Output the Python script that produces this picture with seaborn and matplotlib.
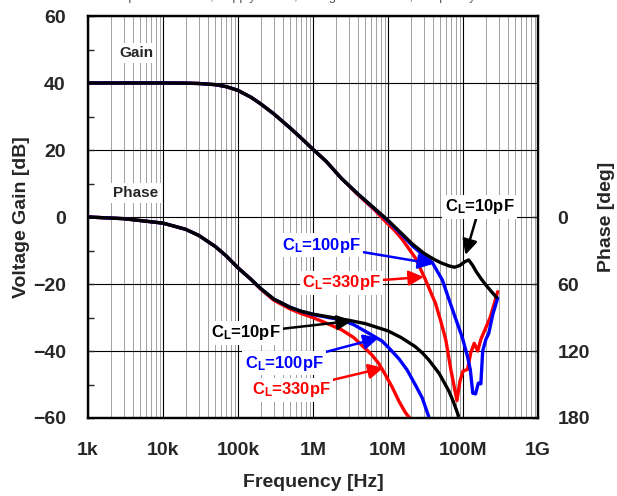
import matplotlib
matplotlib.use("Agg")
import matplotlib.pyplot as plt
import seaborn as sns
from matplotlib.ticker import FixedLocator, NullFormatter, LogLocator

# ----- data -----
# Gain [dB] vs frequency [Hz]
freq_gain_10p = [1e3, 1e4, 2e4, 3e4, 5e4, 7e4, 1e5, 1.5e5, 2e5, 3e5,
                 5e5, 7e5, 1e6, 1.5e6, 2.4e6, 4e6, 6e6, 1e7, 1.5e7, 2.1e7,
                 3e7, 4e7, 5e7, 6.5e7, 7.7e7, 9e7, 1.05e8, 1.19e8, 1.35e8, 1.5e8,
                 1.75e8, 2e8, 2.4e8, 2.8e8]
gain_10p = [40, 40, 39.95, 39.85, 39.5, 38.9, 37.8, 35.7, 33.8, 30.8,
            26.5, 23.5, 20.2, 16.6, 11.5, 6.8, 3.4, -1.0, -4.8, -8.0,
            -10.8, -12.5, -13.6, -14.6, -15.0, -14.5, -13.4, -12.8, -14.5, -16.3,
            -18.5, -20.2, -22.3, -24.0]

freq_gain_100p = [1e3, 1e4, 2e4, 3e4, 5e4, 7e4, 1e5, 1.5e5, 2e5, 3e5,
                  5e5, 7e5, 1e6, 1.5e6, 2.4e6, 4e6, 6e6, 1e7, 1.5e7, 2.1e7,
                  3.1e7, 3.9e7, 5.3e7, 7.2e7, 9.8e7, 1.15e8, 1.25e8, 1.35e8, 1.47e8, 1.6e8,
                  1.73e8, 1.83e8, 2.02e8, 2.2e8, 2.5e8, 2.9e8]
gain_100p = [40, 40, 39.95, 39.85, 39.5, 38.9, 37.8, 35.7, 33.8, 30.8,
             26.5, 23.5, 20.2, 16.6, 11.5, 6.8, 3.3, -1.2, -5.1, -8.5,
             -11.9, -13.6, -18.8, -27.5, -36.0, -41.7, -45.5, -52.6, -52.8, -49.6,
             -49.8, -40.0, -36.5, -34.8, -29.0, -24.2]

freq_gain_330p = [1e3, 1e4, 2e4, 3e4, 5e4, 7e4, 1e5, 1.5e5, 2e5, 3e5,
                  5e5, 7e5, 1e6, 1.5e6, 2.4e6, 4e6, 6.7e6, 9.2e6, 1.2e7, 1.54e7,
                  2.33e7, 3.17e7, 4.3e7, 5e7, 5.9e7, 6.9e7, 8.3e7, 9.1e7, 1.0e8, 1.15e8,
                  1.27e8, 1.41e8, 1.57e8, 1.73e8, 1.85e8, 2.02e8, 2.3e8, 2.6e8, 2.9e8]
gain_330p = [40, 40, 39.95, 39.85, 39.5, 38.9, 37.8, 35.7, 33.8, 30.8,
             26.5, 23.5, 20.2, 16.6, 11.5, 6.6, 2.0, -1.3, -3.8, -6.6,
             -12.3, -18.8, -25.8, -30.7, -36.7, -45.7, -54.8, -49.0, -46.0, -45.5,
             -40.5, -37.7, -40.0, -36.5, -35.0, -33.0, -30.0, -26.0, -22.3]

# Phase lag [deg] vs frequency [Hz]
freq_phase_10p = [1e3, 3e3, 1e4, 2e4, 3e4, 5e4, 7e4, 1e5, 1.5e5, 2e5,
                  3e5, 5e5, 7e5, 1e6, 2e6, 3e6, 5e6, 1e7, 1.5e7, 2.3e7,
                  2.9e7, 3.5e7, 4.8e7, 6.5e7, 7.5e7, 8.7e7]
phase_10p = [0, 1.5, 5.5, 11, 16.5, 26.5, 35, 45.5, 56, 64,
             73.5, 81, 84.5, 87, 90.5, 92.5, 95.5, 102, 108, 116,
             122, 128, 140, 156, 166, 178]

freq_phase_100p = [1e3, 3e3, 1e4, 2e4, 3e4, 5e4, 7e4, 1e5, 1.5e5, 2e5,
                   3e5, 5e5, 7e5, 1e6, 1.6e6, 2.4e6, 3.5e6, 5.5e6, 8.3e6, 1.02e7,
                   1.4e7, 1.8e7, 2.3e7, 2.86e7, 3.5e7]
phase_100p = [0, 1.5, 5.5, 11, 16.5, 26.5, 35, 45.5, 56, 64,
              73.5, 81, 84.5, 87.3, 90, 92, 96.5, 104, 111, 117,
              127, 137, 150, 162, 179]

freq_phase_330p = [1e3, 3e3, 1e4, 2e4, 3e4, 5e4, 7e4, 1e5, 1.5e5, 2e5,
                   3e5, 5e5, 7e5, 9.5e5, 1.5e6, 2.4e6, 3.5e6, 4.5e6, 6e6, 7.5e6,
                   9e6, 1.13e7, 1.4e7, 1.7e7, 2e7]
phase_330p = [0, 1.5, 5.5, 11, 16.5, 26.5, 35, 45.5, 56, 64.5,
              74.5, 82.5, 86.5, 89.5, 95, 101, 108, 115, 123, 131,
              140, 152, 165, 175, 181]

freq_ticks = [1e3, 1e4, 1e5, 1e6, 1e7, 1e8, 1e9]
freq_tick_labels = ["1k", "10k", "100k", "1M", "10M", "100M", "1G"]
gain_ticks = [-60, -40, -20, 0, 20, 40, 60]
phase_ticks = [0, 60, 120, 180]

# ----- style -----
sns.set_style("white")
plt.rcParams['font.family'] = ['Liberation Sans', 'DejaVu Sans']
plt.rcParams['font.weight'] = 'bold'
plt.rcParams['axes.labelweight'] = 'bold'
plt.rcParams['mathtext.fontset'] = 'custom'
plt.rcParams['mathtext.rm'] = 'Liberation Sans:bold'
plt.rcParams['mathtext.it'] = 'Liberation Sans:bold'
plt.rcParams['mathtext.bf'] = 'Liberation Sans:bold'

fig = plt.figure(figsize=(6.17, 4.96), dpi=100)
ax = fig.add_axes([88 / 617, 1 - 418 / 496, 450 / 617, 402 / 496])
ax2 = ax.twinx()

lw = 2.4
# Gain curves
sns.lineplot(x=freq_gain_330p, y=gain_330p, ax=ax, color="#ff0000", lw=lw, sort=False, estimator=None)
sns.lineplot(x=freq_gain_100p, y=gain_100p, ax=ax, color="#0000ff", lw=lw, sort=False, estimator=None)
sns.lineplot(x=freq_gain_10p, y=gain_10p, ax=ax, color="#000000", lw=lw, sort=False, estimator=None)
# Phase curves
sns.lineplot(x=freq_phase_330p, y=phase_330p, ax=ax2, color="#ff0000", lw=lw, sort=False, estimator=None)
sns.lineplot(x=freq_phase_100p, y=phase_100p, ax=ax2, color="#0000ff", lw=lw, sort=False, estimator=None)
sns.lineplot(x=freq_phase_10p, y=phase_10p, ax=ax2, color="#000000", lw=lw, sort=False, estimator=None)

# Axes scales
ax.set_xscale("log")
ax.set_xlim(1e3, 1e9)
ax.set_ylim(-60, 60)
ax2.set_ylim(180, -180)

ax.xaxis.set_major_locator(FixedLocator(freq_ticks))
ax.set_xticklabels(freq_tick_labels)
ax.xaxis.set_minor_locator(LogLocator(base=10, subs=range(2, 10), numticks=20))
ax.xaxis.set_minor_formatter(NullFormatter())
ax.set_yticks(gain_ticks)
ax.yaxis.set_minor_locator(FixedLocator(list(range(-50, 60, 20))))
ax2.set_yticks(phase_ticks)

# Grid
ax.grid(which="major", axis="both", color="black", lw=0.8)
ax.grid(which="minor", axis="x", color="#a0a0a0", lw=0.7)
ax.set_axisbelow(True)
ax2.grid(False)

for a in (ax, ax2):
    for s in a.spines.values():
        s.set_color("black")
        s.set_linewidth(1.6)

ax.tick_params(axis="x", which="both", length=0, pad=17, labelsize=14)
ax.tick_params(axis="y", which="major", direction="in", length=4, width=1, pad=16, labelsize=14, left=True)
ax.tick_params(axis="y", which="minor", direction="in", length=4, width=1, left=True)
ax2.tick_params(axis="y", direction="in", length=4, width=1, pad=14, labelsize=14, right=True)

ax.set_xlabel("Frequency [Hz]", fontsize=14, labelpad=11)
ax.set_ylabel("Voltage Gain [dB]", fontsize=14, labelpad=2)
ax2.set_ylabel("Phase [deg]", fontsize=14, labelpad=6)
ax2.set_xlabel("")

# Section labels
box = dict(boxstyle="square,pad=0.2", fc="white", ec="none")
ax.text(4.4e3, 49, "Gain", ha="center", va="center", fontsize=11, bbox=box)
ax.text(4.3e3, 7.2, "Phase", ha="center", va="center", fontsize=11, bbox=box)

# Capacitance annotations (placed in gain coordinates)
notes = [
    (r"C$_{\rm L}$=10pF", "#000000", (1.66e8, 3.0), (1.08e8, -11.3)),
    (r"C$_{\rm L}$=100pF", "#0000ff", (1.3e6, -8.4), (4.0e7, -14.0)),
    (r"C$_{\rm L}$=330pF", "#ff0000", (2.4e6, -19.7), (3.0e7, -17.9)),
    (r"C$_{\rm L}$=10pF", "#000000", (1.28e5, -34.6), (3.3e6, -31.0)),
    (r"C$_{\rm L}$=100pF", "#0000ff", (4.1e5, -43.6), (7.5e6, -36.1)),
    (r"C$_{\rm L}$=330pF", "#ff0000", (5.1e5, -51.6), (8.7e6, -45.0)),
]
for label, color, txt_pos, tip in notes:
    ax2.annotate(label, xy=tip, xytext=txt_pos,
                 xycoords=ax.transData, textcoords=ax.transData,
                 ha="center", va="center", fontsize=12, color=color,
                 bbox=dict(boxstyle="square,pad=0.15", fc="white", ec="none"),
                 arrowprops=dict(arrowstyle="-|>,head_length=0.5,head_width=0.25",
                                 color=color, lw=1.8, mutation_scale=18,
                                 shrinkA=0, shrinkB=0))

# Cropped caption at the very top of the original image
fig.text(0.47, 1.0, "Temperature=25°C, Supply=±2.5V, Voltage Gain=40dB, Frequency",
         ha="center", va="baseline", fontsize=9, fontweight="normal", color="#555555")

fig.savefig("out.png", dpi=100)
